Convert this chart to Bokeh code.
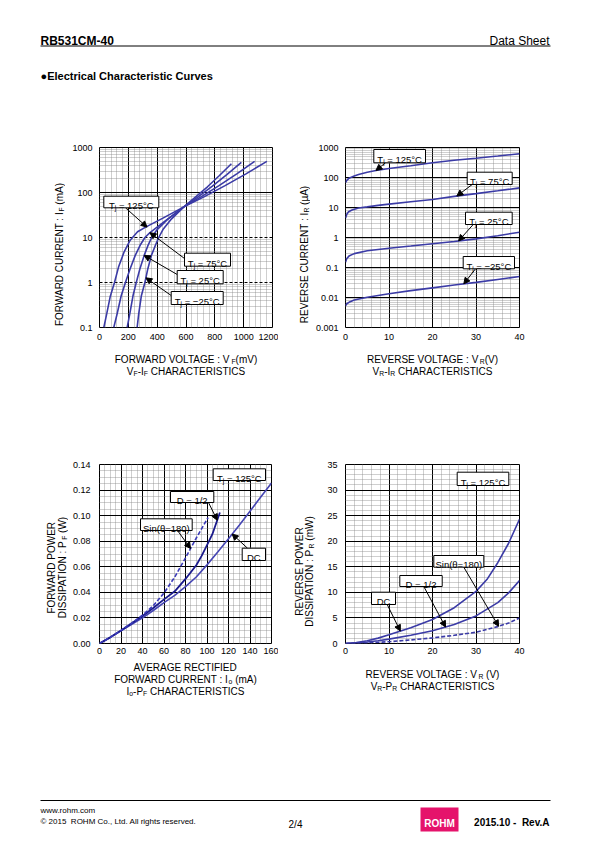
import math
import re
from bokeh.plotting import figure
from bokeh.layouts import column, row
from bokeh.models import (Range1d, FixedTicker, Label, BoxAnnotation, Arrow,
                          NormalHead, Grid, NumeralTickFormatter, CustomJSTickFormatter)
from bokeh.core.properties import value
from bokeh.embed import file_html
from bokeh.resources import INLINE

FONT = "Liberation Sans"
CURVE = "#3b3ba6"
CURVE_DARK = "#1a1a8c"

# ---------------- data: VF-IF (mV, mA) ----------------
vf_125 = [30, 50, 74, 104, 132, 171, 213, 264, 320, 440, 585, 728, 871, 1016, 1161]
if_125 = [0.1, 0.2, 0.48, 1.0, 2.2, 4.8, 8.7, 13.4, 17.0, 27.0, 48.0, 81.0, 142.0, 260.0, 491.0]
vf_75 = [99, 122, 150, 180, 212, 248, 285, 315, 350, 420, 500, 585, 707, 829, 952, 1076]
if_75 = [0.1, 0.2, 0.5, 1.0, 2.0, 4.0, 7.0, 10.0, 12.8, 19.0, 30.0, 48.0, 81.0, 142.0, 260.0, 491.0]
vf_25 = [192, 210, 232, 255, 280, 310, 335, 362, 400, 470, 585, 684, 783, 883, 984]
if_25 = [0.1, 0.2, 0.5, 1.0, 2.0, 4.0, 6.5, 10.0, 15.0, 25.0, 48.0, 80.0, 138.0, 250.0, 467.0]
vf_m25 = [261, 272, 290, 315, 335, 360, 390, 411, 440, 500, 585, 665, 749, 832, 915]
if_m25 = [0.1, 0.2, 0.5, 1.0, 2.0, 4.0, 7.0, 10.0, 15.0, 26.0, 48.0, 79.0, 134.0, 239.0, 436.0]

# ---------------- data: VR-IR (V, uA) ----------------
vr_125 = [0, 0.3, 0.7, 1.2, 2, 3, 5, 7, 10, 15, 20, 25, 30, 35, 40]
ir_125 = [68, 80, 92, 100, 112, 125, 150, 172, 200, 245, 310, 375, 440, 520, 620]
vr_75 = [0, 0.3, 0.7, 1.5, 3, 5, 7.5, 10, 15, 20, 25, 30, 35, 40]
ir_75 = [4.4, 6.0, 7.2, 8.3, 9.6, 10.5, 11.8, 13.0, 15.5, 18.5, 23.5, 29.0, 36.0, 45.0]
vr_25 = [0, 0.3, 0.8, 2, 5, 10, 15, 20, 25, 30, 35, 40]
ir_25 = [0.15, 0.2, 0.24, 0.29, 0.36, 0.44, 0.52, 0.62, 0.74, 0.9, 1.15, 1.5]
vr_m25 = [0, 0.3, 0.8, 2, 5, 10, 15, 20, 25, 30, 35, 40]
ir_m25 = [0.0053, 0.0062, 0.0069, 0.0082, 0.0102, 0.0134, 0.017, 0.021, 0.026, 0.032, 0.04, 0.05]

# ---------------- data: Io-PF (mA, W) ----------------
io_dc = [0, 10, 20, 30, 40, 50, 60, 70, 80, 90, 100, 110, 120, 130, 140, 150, 160]
pf_dc = [0, 0.0048, 0.0099, 0.015, 0.020, 0.0258, 0.032, 0.0377, 0.0445, 0.052, 0.0615,
         0.0715, 0.082, 0.0925, 0.1035, 0.1145, 0.1255]
io_half = [0, 10, 20, 30, 40, 50, 60, 70, 80, 90, 95, 100, 105, 112]
pf_half = [0, 0.0048, 0.0102, 0.0158, 0.0215, 0.0278, 0.0345, 0.0408, 0.0505, 0.0612,
           0.0685, 0.077, 0.0855, 0.1025]
io_sin = [0, 10, 20, 30, 40, 50, 60, 70, 80, 90, 101]
pf_sin = [0, 0.0048, 0.0103, 0.016, 0.0222, 0.0295, 0.0395, 0.052, 0.067, 0.0825, 0.0985]

# ---------------- data: VR-PR (V, mW) ----------------
vr_dc = [0, 2.5, 5, 7.5, 10, 15, 20, 25, 30, 32.5, 35, 37.5, 40]
pr_dc = [0, 0.2, 0.55, 1.05, 1.7, 3.1, 4.7, 7.0, 10.2, 12.5, 15.8, 19.6, 24.3]
vr_half = [0, 2.5, 5, 7.5, 10, 15, 20, 25, 30, 35, 37.5, 40]
pr_half = [0, 0.1, 0.3, 0.55, 0.85, 1.6, 2.5, 3.7, 5.4, 8.0, 9.9, 12.3]
vr_sin = [0, 5, 10, 15, 20, 25, 30, 35, 37.5, 40]
pr_sin = [0, 0.12, 0.35, 0.7, 1.1, 1.6, 2.2, 3.3, 4.0, 5.0]

# tick definitions
a_xticks = [0, 200, 400, 600, 800, 1000, 1200]
a_yticks = [0.1, 1, 10, 100, 1000]
b_xticks = [0, 10, 20, 30, 40]
b_yticks = [0.001, 0.01, 0.1, 1, 10, 100, 1000]
c_xticks = [0, 20, 40, 60, 80, 100, 120, 140, 160]
c_yticks = [0, 0.02, 0.04, 0.06, 0.08, 0.10, 0.12, 0.14]
d_xticks = [0, 10, 20, 30, 40]
d_yticks = [0, 5, 10, 15, 20, 25, 30, 35]

# ---------------- text helpers ----------------
_W = {c: 556 for c in "0123456789"}
_W.update({' ': 278, '(': 333, ')': 333, ':': 278, '-': 333, '.': 278, ',': 278, '/': 278,
           '=': 584, '°': 400, 'µ': 576, 'θ': 556, '−': 584, '©': 737})
_W.update(dict(zip("ABCDEFGHIJKLMNOPQRSTUVWXYZ",
                   [667, 667, 722, 722, 667, 611, 778, 722, 278, 500, 667, 556, 833, 722, 778,
                    667, 778, 722, 667, 611, 722, 667, 944, 667, 667, 611])))
_W.update(dict(zip("abcdefghijklmnopqrstuvwxyz",
                   [556, 556, 500, 556, 556, 278, 556, 556, 222, 222, 500, 222, 833, 556, 556,
                    556, 556, 333, 500, 278, 556, 500, 722, 500, 500, 500])))
SUB = 0.68


def tw(s, size):
    return sum(_W.get(ch, 556) for ch in s) * size / 1000.0


def segs_of(s):
    parts = re.split(r"_\{([^}]*)\}", s)
    return [(t, i % 2 == 1) for i, t in enumerate(parts) if t]


def layout_segs(s, size):
    """Return [(text, font size, offset along line, is_sub)], total width."""
    segs = segs_of(s)
    ws = [tw(t, size * SUB if sb else size) for t, sb in segs]
    W = sum(ws)
    out = []
    cum = 0.0
    for (t, sb), w in zip(segs, ws):
        fs = size * SUB if sb else size
        lead = len(t) - len(t.lstrip(' '))
        core = t.strip(' ')
        if core:
            out.append((core, fs, cum + tw(' ' * lead, fs), sb))
        cum += w
    return out, W


def rich_label(p, fl, fb, cx, cy, s, size=9.0):
    """Text with subscripts inside a chart frame, centred on page point (cx, cy)."""
    parts, W = layout_segs(s, size)
    for t, fs, off, sb in parts:
        drop = 0.22 * size if sb else 0.0
        px = cx - W / 2 + off
        py = cy + 0.36 * size + drop
        p.add_layout(Label(x=px - fl, y=fb - py, x_units="screen", y_units="screen",
                           text=t, text_font=FONT, text_font_size=f"{fs:.2f}px",
                           text_align="left", text_baseline="alphabetic", text_color="black"))


def rich_text(p, ox, oy, cx, cy, s, size=10.0, vertical=False):
    """Text with subscripts on a blank figure whose page origin is (ox, oy)."""
    parts, W = layout_segs(s, size)
    for t, fs, off, sb in parts:
        drop = 0.22 * size if sb else 0.0
        if vertical:
            x = cx + 0.36 * size + drop
            y = cy + W / 2 - off
            ang = math.pi / 2
        else:
            x = cx - W / 2 + off
            y = cy + 0.36 * size + drop
            ang = 0.0
        p.text(x=[x - ox], y=[y - oy], text=[t], angle=ang, text_font=value(FONT),
               text_font_size=f"{fs:.2f}px", text_align="left",
               text_baseline="alphabetic", text_color="black")


def tag(p, fl, fb, box, s, size=9.5, start=None, tip=None):
    x0, y0, x1, y1 = box
    if start is not None:
        p.add_layout(Arrow(x_start=start[0] - fl, y_start=fb - start[1], start_units="screen",
                           x_end=tip[0], y_end=tip[1], end_units="data",
                           end=NormalHead(size=6, fill_color="black", line_color="black",
                                          line_width=1),
                           line_color="black", line_width=1))
    p.add_layout(BoxAnnotation(left=x0 - fl, right=x1 - fl, top=fb - y0, bottom=fb - y1,
                               left_units="screen", right_units="screen",
                               top_units="screen", bottom_units="screen",
                               fill_color="white", fill_alpha=1.0,
                               line_color="black", line_alpha=1.0, line_width=1))
    rich_label(p, fl, fb, (x0 + x1) / 2, (y0 + y1) / 2, s, size)


def make_chart(xr, yr, ylog, left, fw, fh, top, bottom, right, xt, xminor, yt, yminor,
               ystand=7, xstand=6, solid_y=None, dashed_y=None):
    p = figure(x_range=Range1d(*xr), y_range=Range1d(*yr),
               y_axis_type="log" if ylog else "linear",
               frame_width=fw, frame_height=fh,
               min_border_left=left, min_border_right=right,
               min_border_top=top, min_border_bottom=bottom,
               toolbar_location=None, output_backend="svg", title=None)
    p.outline_line_color = "black"
    p.outline_line_width = 1
    p.background_fill_color = "white"
    p.border_fill_color = "white"
    p.xaxis.ticker = FixedTicker(ticks=xt, minor_ticks=xminor)
    p.yaxis.ticker = FixedTicker(ticks=yt, minor_ticks=yminor)
    for ax in (p.xaxis[0], p.yaxis[0]):
        ax.axis_line_color = None
        ax.major_tick_out = 0
        ax.major_tick_in = 0
        ax.minor_tick_out = 0
        ax.minor_tick_in = 0
        ax.major_label_text_font = FONT
        ax.major_label_text_font_size = "9px"
        ax.major_label_text_color = "black"
    p.xaxis[0].major_label_standoff = xstand
    p.yaxis[0].major_label_standoff = ystand
    if ylog:
        p.yaxis[0].formatter = CustomJSTickFormatter(
            code="return String(Number(tick.toPrecision(3)));")
    p.xgrid[0].ticker = FixedTicker(ticks=xt, minor_ticks=xminor)
    p.ygrid[0].ticker = FixedTicker(ticks=solid_y if solid_y is not None else yt,
                                    minor_ticks=yminor)
    for g in (p.xgrid[0], p.ygrid[0]):
        g.grid_line_color = "black"
        g.grid_line_width = 1
        g.grid_line_alpha = 1.0
        g.minor_grid_line_color = "#858585"
        g.minor_grid_line_dash = "1 1"
        g.minor_grid_line_width = 0.8
    if dashed_y:
        p.add_layout(Grid(dimension=1, ticker=FixedTicker(ticks=dashed_y),
                          grid_line_color="black", grid_line_width=1,
                          grid_line_dash="3 2"))
    return p


def log_minor(e0, e1):
    return [k * 10.0 ** e for e in range(e0, e1) for k in range(2, 10)]


def blank(w, h):
    p = figure(x_range=Range1d(0, w), y_range=Range1d(h, 0), frame_width=w, frame_height=h,
               x_axis_type=None, y_axis_type=None, min_border=0, toolbar_location=None,
               output_backend="svg", title=None)
    p.outline_line_color = None
    p.background_fill_color = "white"
    p.border_fill_color = "white"
    return p


def put(p, x, y, t, size, bold=False, align="left", color="black"):
    p.text(x=[x], y=[y], text=[t], text_font=value(FONT), text_font_size=size,
           text_font_style="bold" if bold else "normal", text_align=align,
           text_baseline="alphabetic", text_color=color)


# ================= chart A : VF-IF (frame page x 99-272, y 147-327) =================
FLa, FBa = 99, 327
pa = make_chart((0, 1200), (0.1, 1000), True, 34, 173, 180, 17, 18, 6,
                a_xticks, [v for v in range(0, 1201, 40) if v % 200], a_yticks, log_minor(-1, 3),
                ystand=7, xstand=6, solid_y=[0.1, 100, 1000], dashed_y=[1, 10])
for xs, ys in ((vf_125, if_125), (vf_75, if_75), (vf_25, if_25), (vf_m25, if_m25)):
    pa.line(xs, ys, line_color=CURVE, line_width=1.6)
tag(pa, FLa, FBa, (103.3, 195.7, 158.3, 207.3), "T_{j} = 125°C", start=(125, 207.3), tip=(330, 17.0))
tag(pa, FLa, FBa, (184.0, 252.7, 230.0, 265.7), "T_{j} = 75°C", start=(184, 258.0), tip=(350, 12.8))
tag(pa, FLa, FBa, (176.7, 270.0, 222.7, 283.3), "T_{j} = 25°C", start=(176.7, 274.0), tip=(310, 4.0))
tag(pa, FLa, FBa, (170.7, 291.0, 222.7, 304.0), "T_{j} = −25°C", start=(170.7, 295.0), tip=(322, 1.27))

# ================= chart B : VR-IR (frame page x 345-519, y 147-327) =================
FLb, FBb = 345, 327
pb = make_chart((0, 40), (0.001, 1000), True, 35, 174, 180, 17, 18, 65,
                b_xticks, [v for v in range(0, 41, 2) if v % 10], b_yticks, log_minor(-3, 3),
                ystand=7, xstand=6)
for xs, ys in ((vr_125, ir_125), (vr_75, ir_75), (vr_25, ir_25), (vr_m25, ir_m25)):
    pb.line(xs, ys, line_color=CURVE, line_width=1.6)
tag(pb, FLb, FBb, (373.3, 149.0, 425.0, 162.3), "T_{j} = 125°C", start=(385, 162.3), tip=(7, 172))
tag(pb, FLb, FBb, (466.7, 171.7, 511.7, 184.0), "T_{j} = 75°C", start=(471.7, 184.0), tip=(25.6, 24.1))
tag(pb, FLb, FBb, (465.0, 211.7, 511.7, 224.0), "T_{j} = 25°C", start=(472.7, 224.0), tip=(26, 0.77))
tag(pb, FLb, FBb, (462.7, 256.0, 514.0, 268.3), "T_{j} = −25°C", start=(475, 268.3), tip=(27.2, 0.0285))

# ================= chart C : Io-PF (frame page x 99-271, y 464-643) =================
FLc, FBc = 99, 643
pc = make_chart((0, 160), (0, 0.14), False, 31, 172, 179, 17, 15, 7,
                c_xticks, [v for v in range(0, 161, 5) if v % 20],
                c_yticks, [k * 0.005 for k in range(29) if k % 4], ystand=9, xstand=4)
pc.yaxis[0].formatter = NumeralTickFormatter(format="0.00")
pc.line(io_dc, pf_dc, line_color="#4545b3", line_width=1.6)
pc.line(io_half, pf_half, line_color=CURVE_DARK, line_width=1.8)
pc.line(io_sin, pf_sin, line_color="#3a3ab8", line_width=1.6, line_dash="4 2")
tag(pc, FLc, FBc, (212.7, 468.3, 265.0, 480.0), "T_{j} = 125°C")
tag(pc, FLc, FBc, (170.0, 491.0, 213.3, 502.0), "D = 1/2", start=(208, 502.0), tip=(109.5, 0.0964))
tag(pc, FLc, FBc, (140.0, 518.3, 191.7, 530.0), "Sin(θ=180)", start=(177, 530.0), tip=(84.7, 0.0743))
tag(pc, FLc, FBc, (241.7, 547.7, 265.0, 560.0), "DC", start=(247, 547.7), tip=(123.4, 0.0856))

# ================= chart D : VR-PR (frame page x 345-519, y 464-643) =================
FLd, FBd = 345, 643
pd_ = make_chart((0, 40), (0, 35), False, 29, 174, 179, 17, 15, 65,
                 d_xticks, [v for v in range(0, 41, 2) if v % 10],
                 d_yticks, [v for v in range(0, 36) if v % 5], ystand=8, xstand=4)
pd_.line(vr_dc, pr_dc, line_color=CURVE, line_width=1.6)
pd_.line(vr_half, pr_half, line_color=CURVE, line_width=1.6)
pd_.line(vr_sin, pr_sin, line_color=CURVE, line_width=1.6, line_dash="4 2")
tag(pd_, FLd, FBd, (456.7, 471.7, 508.3, 485.0), "T_{j} = 125°C")
tag(pd_, FLd, FBd, (433.3, 555.0, 483.3, 566.7), "Sin(θ=180)", start=(463.3, 566.7), tip=(35.2, 3.36))
tag(pd_, FLd, FBd, (399.3, 575.0, 441.7, 586.0), "D = 1/2", start=(423.3, 586.0), tip=(23, 3.22))
tag(pd_, FLd, FBd, (371.0, 591.7, 395.0, 604.0), "DC", start=(386.7, 604.0), tip=(12.6, 2.43))

# ================= text panels (page coordinates, origin top-left) =================
hdr = blank(584, 130)
put(hdr, 40, 40.5, "RB531CM-40", "12px", bold=True)
put(hdr, 549, 40.5, "Data Sheet", "12px", align="right")
hdr.line([40, 550], [45.5, 45.5], line_color="black", line_width=1)
put(hdr, 40, 75, "●Electrical Characteristic Curves", "11px", bold=True)

# y-titles of row 1 (page y 130-345): strips x 0-65 and 278-310
tA = blank(65, 215)
rich_text(tA, 0, 130, 55, 237, "FORWARD CURRENT : I_{F} (mA)", 10, vertical=True)
tB = blank(32, 215)
rich_text(tB, 278, 130, 300, 237, "REVERSE CURRENT : I_{R} (µA)", 10, vertical=True)

# x-titles of row 1 (page y 345-447)
mid = blank(584, 102)
rich_text(mid, 0, 345, 185.5, 355.5, "FORWARD VOLTAGE : V_{F}(mV)", 10)
rich_text(mid, 0, 345, 185.5, 367.5, "V_{F}-I_{F} CHARACTERISTICS", 10)
rich_text(mid, 0, 345, 432, 355.5, "REVERSE VOLTAGE : V_{R}(V)", 10)
rich_text(mid, 0, 345, 432, 367.5, "V_{R}-I_{R} CHARACTERISTICS", 10)

# y-titles of row 2 (page y 447-658): strips x 0-68 and 278-316
tC = blank(68, 211)
rich_text(tC, 0, 447, 47.5, 550, "FORWARD POWER", 10, vertical=True)
rich_text(tC, 0, 447, 58, 550, "DISSIPATION : P_{F} (W)", 10, vertical=True)
tD = blank(38, 211)
rich_text(tD, 278, 447, 295.5, 554, "REVERSE POWER", 10, vertical=True)
rich_text(tD, 278, 447, 305.5, 554, "DISSIPATION : P_{R} (mW)", 10, vertical=True)

# x-titles of row 2 and page footer (page y 658-838)
ftr = blank(584, 180)
OY = 658
rich_text(ftr, 0, OY, 185, 663.5, "AVERAGE RECTIFIED", 10)
rich_text(ftr, 0, OY, 185, 675.5, "FORWARD CURRENT : I_{o} (mA)", 10)
rich_text(ftr, 0, OY, 185, 687.5, "I_{o}-P_{F} CHARACTERISTICS", 10)
rich_text(ftr, 0, OY, 432, 670, "REVERSE VOLTAGE : V_{R} (V)", 10)
rich_text(ftr, 0, OY, 432, 682.5, "V_{R}-P_{R} CHARACTERISTICS", 10)
ftr.line([40, 550], [800 - OY, 800 - OY], line_color="black", line_width=1)
put(ftr, 40, 810 - OY, "www.rohm.com", "8px")
put(ftr, 40, 820.5 - OY, "© 2015\u00a0 ROHM Co., Ltd. All rights reserved.", "8px")
put(ftr, 295, 823.5 - OY, "2/4", "10px", align="center")
ftr.quad(left=[420], right=[458], top=[807 - OY], bottom=[831 - OY],
         fill_color="#e5136b", line_color=None)
put(ftr, 439, 823 - OY, "ROHM", "10px", bold=True, align="center", color="white")
put(ftr, 549, 822 - OY, "2015.10 -\u00a0 Rev.A", "10px", bold=True, align="right")

layout = column(hdr, row(tA, pa, tB, pb), mid, row(tC, pc, tD, pd_), ftr)
open("out.html", "w").write(file_html(layout, INLINE))
